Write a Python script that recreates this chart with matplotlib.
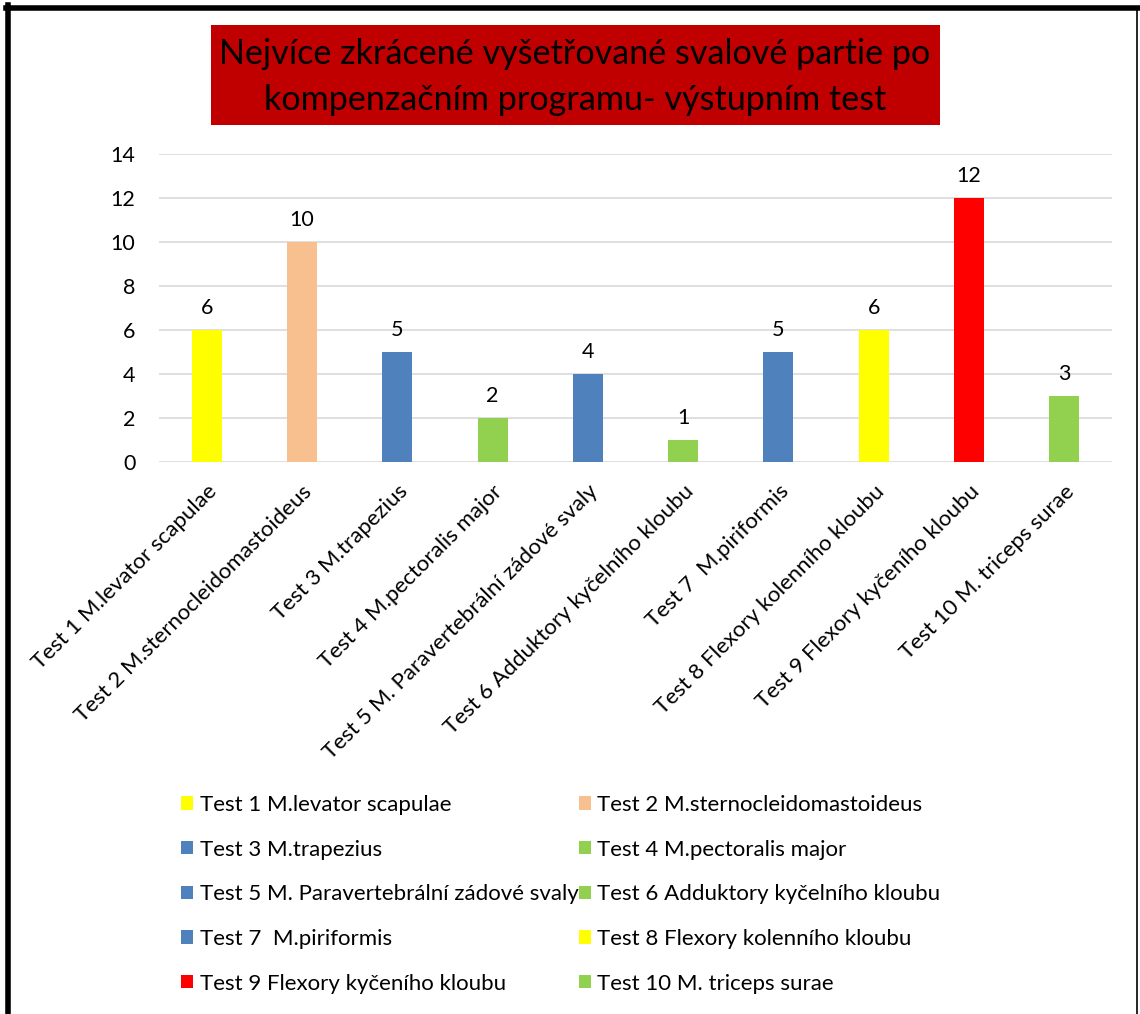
import matplotlib
matplotlib.use("Agg")
import matplotlib.pyplot as plt
from matplotlib.patches import Rectangle, Patch
from matplotlib.lines import Line2D

categories = [
    "Test 1 M.levator scapulae",
    "Test 2 M.sternocleidomastoideus",
    "Test 3 M.trapezius",
    "Test 4 M.pectoralis major",
    "Test 5 M. Paravertebrální zádové svaly",
    "Test 6 Adduktory kyčelního kloubu",
    "Test 7  M.piriformis",
    "Test 8 Flexory kolenního kloubu",
    "Test 9 Flexory kyčeního kloubu",
    "Test 10 M. triceps surae",
]
values = [6, 10, 5, 2, 4, 1, 5, 6, 12, 3]
colors = ["#FFFF00", "#F8BF8F", "#4F81BD", "#92D050", "#4F81BD",
          "#92D050", "#4F81BD", "#FFFF00", "#FF0000", "#92D050"]
yticks = [0, 2, 4, 6, 8, 10, 12, 14]
title = "Nejvíce zkrácené vyšetřované svalové partie po\nkompenzačním programu- výstupním test"

plt.rcParams['font.family'] = ['Lato', 'DejaVu Sans']

W, H = 1140, 1014
fig = plt.figure(figsize=(W / 100, H / 100), dpi=100)

def fx(px):
    return px / W

def fy(py):
    return 1 - py / H

# border
fig.add_artist(Line2D([fx(8), fx(8)], [fy(5), fy(1014)], color="black", lw=4, transform=fig.transFigure))
fig.add_artist(Line2D([fx(6), fx(1138)], [fy(8), fy(8)], color="black", lw=4, transform=fig.transFigure))
fig.add_artist(Line2D([fx(1137), fx(1137)], [fy(8), fy(1014)], color="black", lw=1.2, transform=fig.transFigure))

# title box
fig.add_artist(Rectangle((fx(211), fy(125)), fx(940) - fx(211), fy(25) - fy(125),
                         facecolor="#C00000", edgecolor="none", transform=fig.transFigure))
fig.text(fx(575), fy(77), title, ha="center", va="center", fontsize=24.6,
         color="black", linespacing=1.52)

ax = fig.add_axes([fx(159), fy(462), fx(1112) - fx(159), fy(154) - fy(462)])
x = list(range(len(categories)))
bars = ax.bar(x, values, width=0.315, color=colors, zorder=3)
ax.set_xlim(-0.5, len(categories) - 0.5)
ax.set_ylim(0, 14)
ax.set_yticks(yticks)
ax.yaxis.grid(True, color="#D9D9D9", lw=1.2, zorder=0)
for s in ax.spines.values():
    s.set_visible(False)
ax.tick_params(axis="y", length=0, pad=17, labelsize=15.5)
ax.tick_params(axis="x", length=0, pad=14)
ax.set_xticks(x)
ax.set_xticklabels(categories, rotation=45, ha="right", rotation_mode="anchor", fontsize=16)
ax.bar_label(bars, labels=[str(v) for v in values], padding=9, fontsize=15.5)

handles = [Patch(facecolor=c, edgecolor="none") for c in colors]
order = [0, 2, 4, 6, 8, 1, 3, 5, 7, 9]
fig.legend([handles[i] for i in order], [categories[i] for i in order],
           ncol=2, loc="upper left", bbox_to_anchor=(fx(172), fy(786)),
           frameon=False, fontsize=16, handlelength=0.55, handleheight=0.55,
           handletextpad=0.3, labelspacing=1.11, columnspacing=0.0,
           borderaxespad=0)

fig.savefig("out.png", dpi=100)
